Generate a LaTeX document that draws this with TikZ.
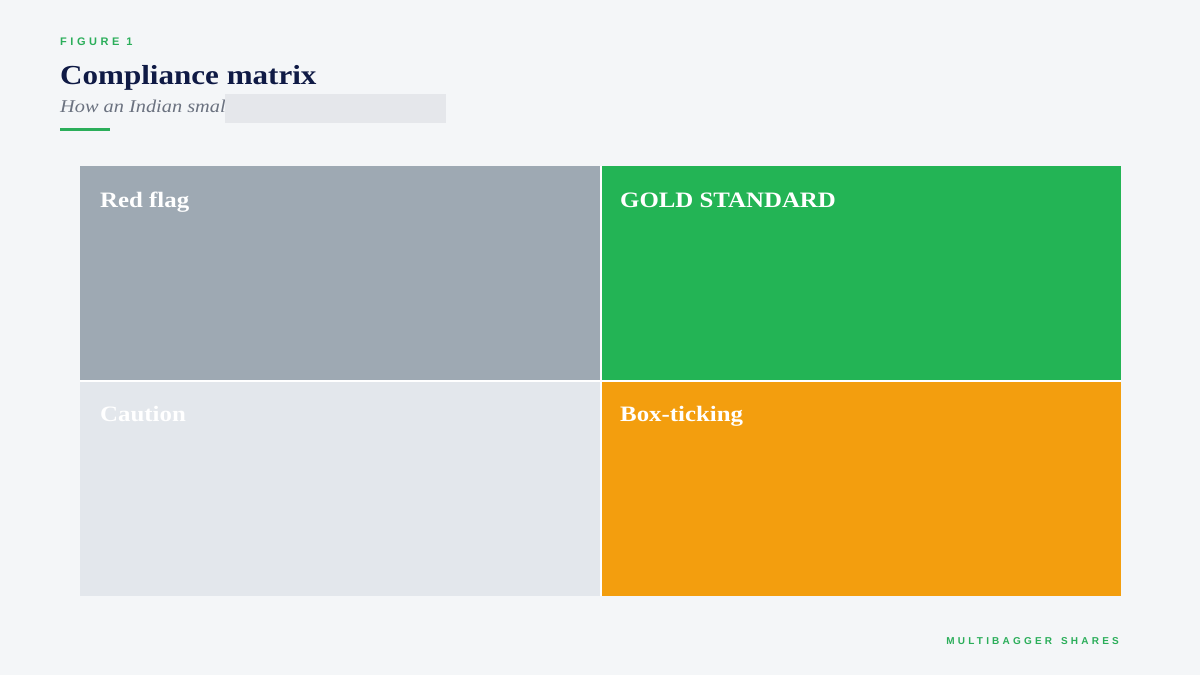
\documentclass[tikz,border=0pt]{standalone}
\usepackage{fontspec}
\setmainfont{Liberation Serif}[FakeStretch=1.13]
\newfontfamily\labelsans[LetterSpace=32]{Liberation Sans}
\definecolor{pagebg}{HTML}{F4F6F8}
\definecolor{navy}{HTML}{0F1A45}
\definecolor{subgray}{HTML}{6B7280}
\definecolor{accent}{HTML}{2BAE5A}
\definecolor{flaggray}{HTML}{9EA9B3}
\definecolor{goldgreen}{HTML}{23B455}
\definecolor{cautiongray}{HTML}{E3E7EC}
\definecolor{tickorange}{HTML}{F39E0E}
\definecolor{maskgray}{HTML}{E5E7EB}
\newcommand\widegap[1]{\hbox{}\hskip#1\hbox{}}
\tikzset{
  divider/.style={draw=white, line width=2pt},
  quadlabel/.style={anchor=base west, inner sep=0pt, text=white, font=\fontsize{22}{26}\selectfont\bfseries},
}
\begin{document}
\begin{tikzpicture}[x=1pt, y=-1pt]
    \fill[pagebg] (0,0) rectangle (1200,675);
    \useasboundingbox (0,0) rectangle (1200,675);
    \node[anchor=base west, inner sep=0pt, text=accent, font=\labelsans\fontsize{11}{13}\selectfont\bfseries] (fig) at (60,45) {\hbox{FIGURE}\widegap{7pt}\hbox{1}};
    \node[anchor=base west, inner sep=0pt, text=navy, font=\fontsize{27.5}{32}\selectfont\bfseries] (title) at (60,84) {Compliance matrix};
    \node[anchor=base west, inner sep=0pt, text=subgray, font=\fontsize{18}{22}\selectfont\itshape] (sub) at (60,112) {How an Indian smal};
    \fill[maskgray] (225,94) rectangle (446,123);
    \fill[accent] (60,128) rectangle (110,131);
    % quadrants
    \fill[flaggray] (80,166) rectangle (601,381);
    \fill[goldgreen] (601,166) rectangle (1121,381);
    \fill[cautiongray] (80,381) rectangle (601,596);
    \fill[tickorange] (601,381) rectangle (1121,596);
    \draw[divider] (601,166) -- (601,596);
    \draw[divider] (80,381) -- (1121,381);
    \node[quadlabel] (redflag) at (100,207) {Red flag};
    \node[quadlabel] (gold) at (620,207) {GOLD STANDARD};
    \node[quadlabel] (caution) at (100,421) {Caution};
    \node[quadlabel] (boxtick) at (620,421) {Box-ticking};
    \node[anchor=base east, inner sep=0pt, text=accent, font=\labelsans\fontsize{10}{12}\selectfont\bfseries] (foot) at (1119,644) {\hbox{MULTIBAGGER}\widegap{9pt}\hbox{SHARES}};
\end{tikzpicture}
\end{document}
